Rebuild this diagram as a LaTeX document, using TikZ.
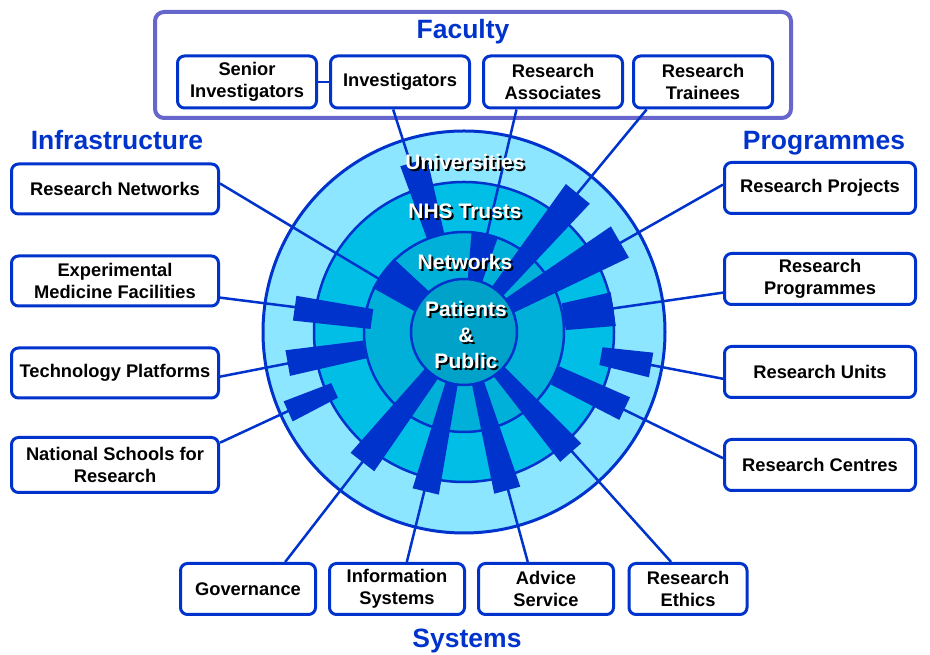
\documentclass[tikz,border=0pt]{standalone}
\usepackage{fontspec}
\setmainfont{Liberation Sans}
\usepackage{tikz}
\definecolor{nihrblue}{HTML}{0033CC}
\definecolor{facframe}{HTML}{6666CC}
\definecolor{ringA}{HTML}{8CE6FF}
\definecolor{ringB}{HTML}{00BEE6}
\definecolor{ringC}{HTML}{00B0D8}
\definecolor{ringD}{HTML}{00A2CA}

\begin{document}
\begin{tikzpicture}[x=1pt, y=1pt,
    box/.style={draw=nihrblue, line width=3pt, rounded corners=7pt, fill=white, inner sep=0pt, align=center, font=\fontsize{18.3}{21.7}\selectfont\bfseries},
    sidebox/.style={box, minimum width=207pt, minimum height=50pt},
    progbox/.style={box, minimum width=191pt, minimum height=51pt},
    sysbox/.style={box, minimum width=135pt, minimum height=51pt},
    facbox/.style={box, minimum width=139pt, minimum height=52pt},
    heading/.style={anchor=base, text=nihrblue, font=\fontsize{26.5}{30}\selectfont\bfseries},
    ring/.style={draw=nihrblue, line width=2.5pt},
    link/.style={draw=nihrblue, line width=2.5pt},
    spoke/.style={fill=nihrblue},
    shadow/.style={text=black, align=center, font=\fontsize{21}{26}\selectfont\bfseries},
    level/.style={text=white, align=center, font=\fontsize{21}{26}\selectfont\bfseries}]
  \useasboundingbox (0,0) rectangle (930,655);

  \node[draw=facframe, line width=4pt, rounded corners=9pt, minimum width=636pt, minimum height=106pt] (fac) at (473,590) {};
  \node[heading] (facT) at (463,616) {Faculty};
  \node[heading] (infT) at (117,505) {Infrastructure};
  \node[heading] (progT) at (824,505) {Programmes};
  \node[heading] (sysT) at (467,7) {Systems};

  \node[facbox] (sinv) at (247,573) {Senior\\Investigators};
  \node[facbox] (inv) at (400,573) {Investigators};
  \node[facbox] (rassoc) at (553,573) {Research\\Associates};
  \node[facbox] (rtrain) at (703,573) {Research\\Trainees};
  \draw[link] (sinv) -- (inv);

  \node[sidebox] (rn) at (115,466) {Research Networks};
  \node[sidebox] (emf) at (115,374) {Experimental\\Medicine Facilities};
  \node[sidebox] (tp) at (115,282) {Technology Platforms};
  \node[sidebox, minimum height=55pt] (nsr) at (115,190) {National Schools for\\Research};

  \node[progbox] (rproj) at (820,467) {Research Projects};
  \node[progbox] (rprog) at (820,376) {Research\\Programmes};
  \node[progbox] (runit) at (820,283) {Research Units};
  \node[progbox] (rcent) at (820,190) {Research Centres};

  \node[sysbox] (gov) at (248,66) {Governance};
  \node[sysbox] (info) at (397,66) {Information\\Systems};
  \node[sysbox] (adv) at (546,66) {Advice\\Service};
  \node[sysbox, minimum width=118pt] (eth) at (688,66) {Research\\Ethics};

  \begin{scope}[shift={(464,323)}]
    \filldraw[ring, line width=3pt, fill=ringA] (0,0) circle (201);
    \filldraw[ring, fill=ringB] (0,0) circle (150);
    \filldraw[ring, fill=ringC] (0,0) circle (100);
    \coordinate (tRN) at (148:98);
    \coordinate (tEMF) at (171.6:168);
    \coordinate (tTP) at (190.1:176);
    \coordinate (tNSR) at (204.2:190);
    \coordinate (tGOV) at (232:162);
    \coordinate (tINFO) at (256:161);
    \coordinate (tADV) at (285.6:161);
    \coordinate (tETH) at (312.1:158);
    \coordinate (tRCENT) at (334.1:175);
    \coordinate (tRUNIT) at (350:187);
    \coordinate (tRPROG) at (9:148);
    \coordinate (tRPROJ) at (29.7:177);
    \coordinate (tRTRAIN) at (50.7:176);
    \coordinate (tRASSOC) at (76.7:97);
    \coordinate (tINV) at (107.6:174);
  \end{scope}

  \draw[link] (rn.3) -- (tRN);
  \draw[link] (emf.-9) -- (tEMF);
  \draw[link] (tp.-2) -- (tTP);
  \draw[link] (nsr.12) -- (tNSR);
  \draw[link] (gov.36) -- (tGOV);
  \draw[link] (info.70) -- (tINFO);
  \draw[link] (adv.124) -- (tADV);
  \draw[link] (eth.122) -- (tETH);
  \draw[link] (rcent.176) -- (tRCENT);
  \draw[link] (runit.184) -- (tRUNIT);
  \draw[link] (rprog.188) -- (tRPROG);
  \draw[link] (rproj.178) -- (tRPROJ);
  \draw[link] (rtrain.-154) -- (tRTRAIN);
  \draw[link] (rassoc.-143) -- (tRASSOC);
  \draw[link] (inv.-104) -- (tINV);

  \begin{scope}[shift={(464,323)}]
    \fill[spoke, rotate=144] (50,-12) -- (100,-18) -- (100,18) -- (50,12) -- cycle;
    \fill[spoke, rotate=172] (93,-10) -- (171,-12.5) -- (171,12.5) -- (93,10) -- cycle;
    \fill[spoke, rotate=190] (101,-9) -- (179,-13) -- (179,13) -- (101,9) -- cycle;
    \fill[spoke, rotate=204.3] (142,-8) -- (193,-11) -- (193,11) -- (142,8) -- cycle;
    \fill[spoke, rotate=232] (50,-8) -- (165,-15) -- (165,15) -- (50,8) -- cycle;
    \fill[spoke, rotate=256.5] (50,-6) -- (164,-13.5) -- (164,13.5) -- (50,6) -- cycle;
    \fill[spoke, rotate=285.3] (50,-6) -- (164,-13.5) -- (164,13.5) -- (50,6) -- cycle;
    \fill[spoke, rotate=311.5] (50,-7) -- (161,-14) -- (161,14) -- (50,7) -- cycle;
    \fill[spoke, rotate=334.5] (101,-10) -- (178,-12.5) -- (178,12.5) -- (101,10) -- cycle;
    \fill[spoke, rotate=350] (139,-9) -- (190,-12.5) -- (190,12.5) -- (139,9) -- cycle;
    \fill[spoke, rotate=8.7] (101,-13.5) -- (151,-17) -- (151,17) -- (101,13.5) -- cycle;
    \fill[spoke, rotate=30] (50,-8) -- (180,-18) -- (180,18) -- (50,8) -- cycle;
    \fill[spoke, rotate=50.5] (50,-7) -- (179,-15.5) -- (179,15.5) -- (50,7) -- cycle;
    \fill[spoke, rotate=78] (50,-7) -- (100,-13.5) -- (100,13.5) -- (50,7) -- cycle;
    \fill[spoke, rotate=106.5] (100,-9) -- (177,-14) -- (177,14) -- (100,9) -- cycle;
    \filldraw[ring, fill=ringD] (0,0) circle (53);
  \end{scope}

  \node[shadow] (uniS) at (467,491) {Universities};
  \node[level] (uni) at (465,493) {Universities};
  \node[shadow] (nhsS) at (467,442) {NHS Trusts};
  \node[level] (nhs) at (465,444) {NHS Trusts};
  \node[shadow] (netS) at (467,391) {Networks};
  \node[level] (net) at (465,393) {Networks};
  \node[shadow] (ppS) at (468,318) {Patients\\\&\\Public};
  \node[level] (pp) at (466,320) {Patients\\\&\\Public};
\end{tikzpicture}
\end{document}
